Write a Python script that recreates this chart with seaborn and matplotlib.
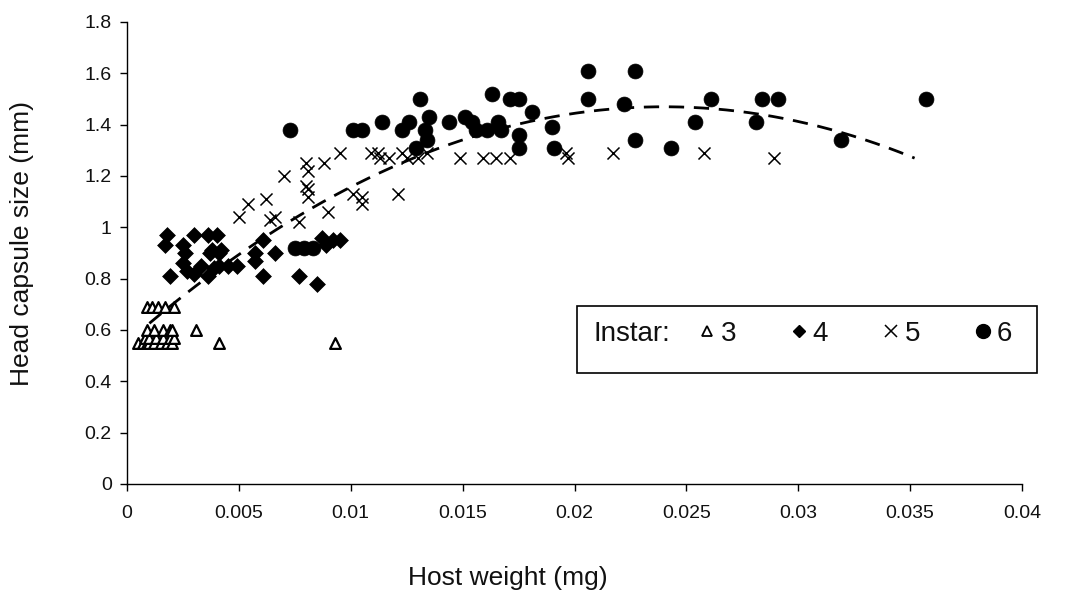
import numpy as np
import pandas as pd
import matplotlib
matplotlib.use("Agg")
import matplotlib.pyplot as plt
import seaborn as sns
from matplotlib.lines import Line2D
from matplotlib.patches import Rectangle

# ---------------- data ----------------
x3 = [0.0005, 0.0007, 0.0009, 0.0010, 0.0012, 0.0015, 0.0018, 0.0020,
      0.0008, 0.0010, 0.0013, 0.0016, 0.0019, 0.0021,
      0.0009, 0.0012, 0.0016, 0.0019, 0.0020,
      0.0009, 0.0011, 0.0014, 0.0017, 0.0021,
      0.0031, 0.0041, 0.0093]
y3 = [0.55, 0.55, 0.55, 0.55, 0.55, 0.55, 0.55, 0.55,
      0.57, 0.57, 0.57, 0.57, 0.57, 0.57,
      0.60, 0.60, 0.60, 0.60, 0.60,
      0.69, 0.69, 0.69, 0.69, 0.69,
      0.60, 0.55, 0.55]

x4 = [0.0017, 0.0018, 0.0019, 0.0025, 0.0026, 0.0025, 0.0027, 0.0030,
      0.0030, 0.0033, 0.0036, 0.0036, 0.0037, 0.0038, 0.0040, 0.0041,
      0.0041, 0.0045, 0.0049, 0.0057, 0.0057, 0.0061, 0.0061, 0.0066,
      0.0077, 0.0085, 0.0087, 0.0089, 0.0092, 0.0095, 0.0039, 0.0042]
y4 = [0.93, 0.97, 0.81, 0.93, 0.90, 0.86, 0.83, 0.82,
      0.97, 0.85, 0.97, 0.81, 0.90, 0.91, 0.97, 0.90,
      0.85, 0.85, 0.85, 0.90, 0.87, 0.95, 0.81, 0.90,
      0.81, 0.78, 0.96, 0.93, 0.95, 0.95, 0.84, 0.91]

x5 = [0.0050, 0.0054, 0.0062, 0.0064, 0.0066, 0.0070, 0.0077, 0.0080,
      0.0081, 0.0088, 0.0095, 0.0080, 0.0081, 0.0081, 0.0090, 0.0101,
      0.0105, 0.0105, 0.0109, 0.0112, 0.0113, 0.0117, 0.0121, 0.0123,
      0.0125, 0.0130, 0.0134, 0.0149, 0.0159, 0.0165, 0.0171, 0.0196,
      0.0197, 0.0217, 0.0258, 0.0289]
y5 = [1.04, 1.09, 1.11, 1.03, 1.04, 1.20, 1.02, 1.25,
      1.22, 1.25, 1.29, 1.16, 1.15, 1.12, 1.06, 1.13,
      1.12, 1.09, 1.29, 1.29, 1.27, 1.27, 1.13, 1.29,
      1.27, 1.27, 1.29, 1.27, 1.27, 1.27, 1.27, 1.29,
      1.27, 1.29, 1.29, 1.27]

x6 = [0.0073, 0.0075, 0.0079, 0.0083, 0.0101, 0.0105, 0.0114, 0.0123,
      0.0126, 0.0131, 0.0135, 0.0133, 0.0134, 0.0129, 0.0144, 0.0151,
      0.0154, 0.0156, 0.0161, 0.0166, 0.0167, 0.0163, 0.0171, 0.0175,
      0.0181, 0.0175, 0.0175, 0.0190, 0.0191, 0.0206, 0.0206, 0.0227,
      0.0222, 0.0227, 0.0243, 0.0254, 0.0261, 0.0281, 0.0284, 0.0291,
      0.0319, 0.0357]
y6 = [1.38, 0.92, 0.92, 0.92, 1.38, 1.38, 1.41, 1.38,
      1.41, 1.50, 1.43, 1.38, 1.34, 1.31, 1.41, 1.43,
      1.41, 1.38, 1.38, 1.41, 1.38, 1.52, 1.50, 1.50,
      1.45, 1.36, 1.31, 1.39, 1.31, 1.61, 1.50, 1.61,
      1.48, 1.34, 1.31, 1.41, 1.50, 1.41, 1.50, 1.50,
      1.34, 1.50]

# quadratic trend line (y = a x^2 + b x + c) and its x range
trend_coef = [-1595.0, 76.56, 0.551]
trend_range = [0.001, 0.0352]

instar_labels = ["3", "4", "5", "6"]
x_ticks = [0, 0.005, 0.01, 0.015, 0.02, 0.025, 0.03, 0.035, 0.04]
x_ticklabels = ["0", "0.005", "0.01", "0.015", "0.02", "0.025", "0.03", "0.035", "0.04"]
y_ticks = [0, 0.2, 0.4, 0.6, 0.8, 1.0, 1.2, 1.4, 1.6, 1.8]
y_ticklabels = ["0", "0.2", "0.4", "0.6", "0.8", "1", "1.2", "1.4", "1.6", "1.8"]

# ---------------- figure ----------------
sns.set_theme(style="white")
plt.rcParams["font.family"] = ["Liberation Sans", "DejaVu Sans"]

W, H = 1088, 605
fig = plt.figure(figsize=(W / 100, H / 100), dpi=100)
ax = fig.add_axes([127 / W, 1 - 484 / H, (1022 - 127) / W, (484 - 22) / H])

df3 = pd.DataFrame({"x": x3, "y": y3})
df4 = pd.DataFrame({"x": x4, "y": y4})
df5 = pd.DataFrame({"x": x5, "y": y5})
df6 = pd.DataFrame({"x": x6, "y": y6})

sns.scatterplot(data=df3, x="x", y="y", ax=ax, marker="^", s=60,
                facecolor="white", edgecolor="black", linewidth=1.6, zorder=3)
sns.scatterplot(data=df4, x="x", y="y", ax=ax, marker="D", s=65,
                color="black", edgecolor="black", linewidth=0.5, zorder=3)
sns.scatterplot(data=df5, x="x", y="y", ax=ax, marker="x", s=75,
                color="black", linewidth=1.1, zorder=3)
sns.scatterplot(data=df6, x="x", y="y", ax=ax, marker="o", s=115,
                color="black", edgecolor="black", linewidth=0.5, zorder=3)

tx = np.linspace(trend_range[0], trend_range[1], 200)
ty = np.polyval(trend_coef, tx)
sns.lineplot(x=tx, y=ty, ax=ax, color="black", linewidth=2.0,
             linestyle=(0, (5.5, 3.5)), zorder=4, sort=False)

ax.set_xlim(0, 0.04)
ax.set_ylim(0, 1.8)
ax.set_xticks(x_ticks)
ax.set_xticklabels(x_ticklabels)
ax.set_yticks(y_ticks)
ax.set_yticklabels(y_ticklabels)
ax.tick_params(axis="both", which="major", direction="out", length=5,
               width=1, color="black", labelsize=14, labelcolor="#111111",
               bottom=True, left=True)
ax.tick_params(axis="x", pad=10)
ax.tick_params(axis="y", pad=6)
for side in ["top", "right"]:
    ax.spines[side].set_visible(False)
for side in ["left", "bottom"]:
    ax.spines[side].set_color("black")
    ax.spines[side].set_linewidth(1.0)

ax.set_xlabel("Host weight (mg)", fontsize=19, color="#111111")
ax.set_ylabel("Head capsule size (mm)", fontsize=19, color="#111111")
ax.xaxis.set_label_coords((508 - 127) / 895, (484 - 566) / 462)
ax.yaxis.set_label_coords((34 - 127) / 895, (484 - 243) / 462)

# legend box
fig.patches.append(Rectangle((577 / W, 1 - 373 / H), (1037 - 577) / W, (373 - 306) / H,
                             transform=fig.transFigure, fill=False,
                             edgecolor="black", linewidth=1.2, zorder=10))
fig.text(593 / W, 1 - 334 / H, "Instar:", fontsize=20, va="center", ha="left",
         color="#111111")
handles = [
    Line2D([], [], linestyle="none", marker="^", markersize=7,
           markerfacecolor="white", markeredgecolor="black", markeredgewidth=1.3),
    Line2D([], [], linestyle="none", marker="D", markersize=6.5,
           color="black"),
    Line2D([], [], linestyle="none", marker="x", markersize=8,
           color="black", markeredgewidth=1.1),
    Line2D([], [], linestyle="none", marker="o", markersize=10,
           color="black"),
]
fig.legend(handles, instar_labels, ncol=4, loc="center left",
           bbox_to_anchor=(700 / W, 1 - 334 / H), frameon=False,
           fontsize=20, labelcolor="#111111", handlelength=0.5, handletextpad=0.25,
           columnspacing=2.0, borderpad=0, borderaxespad=0)

fig.savefig("out.png", dpi=100)
